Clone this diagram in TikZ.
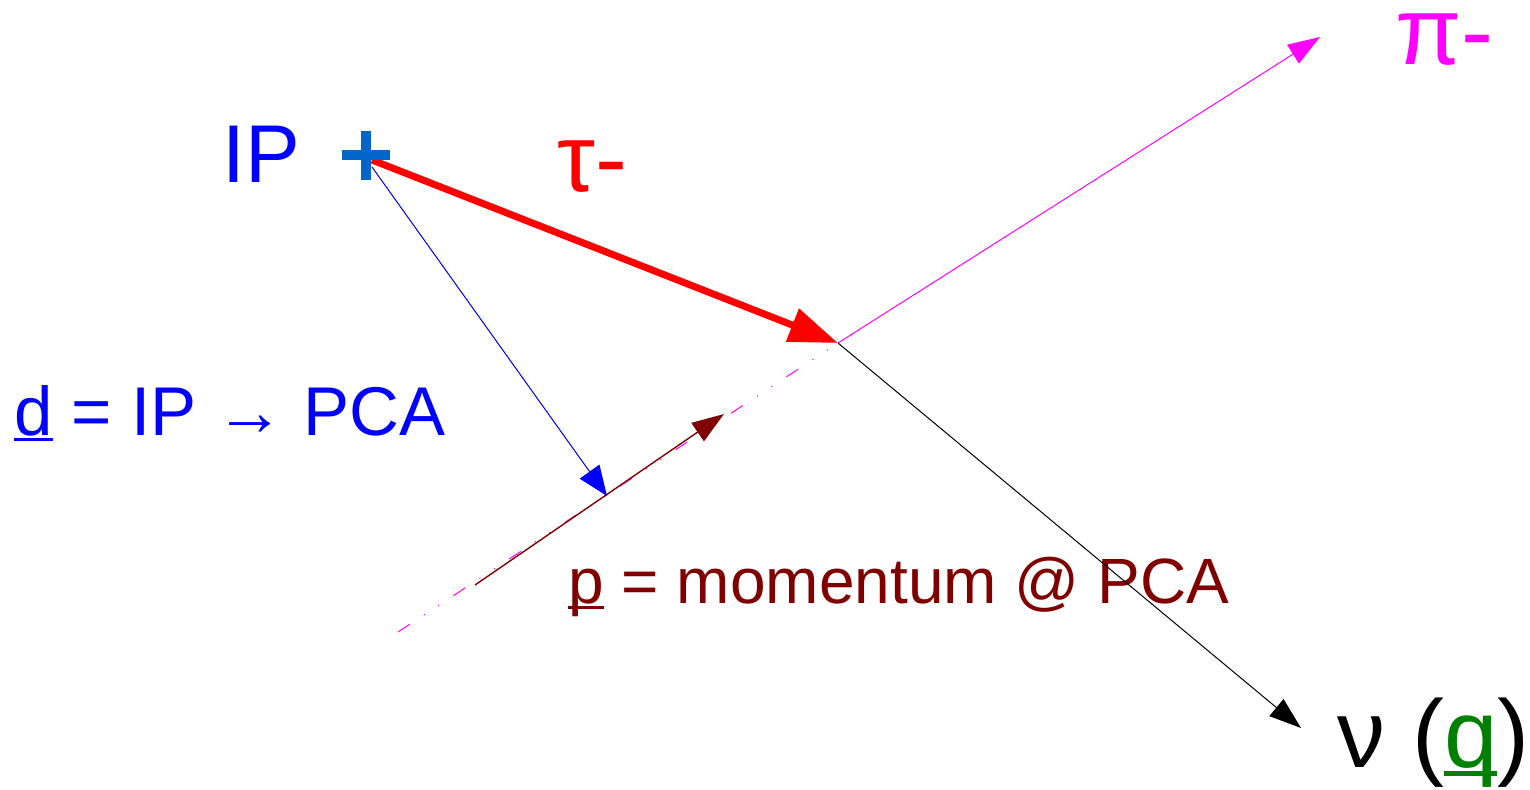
\documentclass[tikz,border=0pt]{standalone}
\usepackage{fontspec}
\setmainfont{Liberation Sans}
\usetikzlibrary{arrows.meta}
\definecolor{crossblue}{RGB}{0,102,204}
\definecolor{brownred}{RGB}{128,0,0}
\definecolor{darkgreen}{RGB}{0,128,0}
\definecolor{pimag}{RGB}{255,0,255}
\definecolor{pureblue}{RGB}{0,0,255}
\definecolor{purered}{RGB}{255,0,0}
\newcommand\myul[1]{\setbox0\hbox{#1}\rlap{\rule[-0.09em]{\wd0}{0.045em}}\box0\relax}
\tikzset{
  lbl/.style={inner sep=0pt, anchor=base west},
  thin line/.style={line width=0.5pt},
  smallhead/.style={-{Triangle[length=16pt,width=11pt]}},
}
\begin{document}
\begin{tikzpicture}[x=0.5pt,y=-0.5pt]
\useasboundingbox (0,0) rectangle (1530,789);
% coordinates
\coordinate (ipr) at (372,160);
\coordinate (ipd) at (372,167);
\coordinate (pca) at (838,343);
\coordinate (pitip) at (1320,37);
\coordinate (pilow) at (398,632);
\coordinate (nutip) at (1301,728);
\coordinate (pstart) at (475,585);
\coordinate (ptip) at (724,414);
\coordinate (dtip) at (607,496);
% labels
\node[lbl, text=pureblue, font=\fontsize{41pt}{41pt}\selectfont] (iplbl) at (222,182) {IP};
\node[lbl, text=purered, font=\fontsize{48pt}{48pt}\selectfont] (taulbl) at (557,191) {τ-};
\node[lbl, text=pimag, text height=27pt, font=\fontsize{48pt}{48pt}\selectfont] (pilbl) at (1395,64) {π-};
\node[lbl, text=pureblue, font=\fontsize{34.5pt}{34.5pt}\selectfont] (dlbl) at (14,435) {\myul{d} = IP → PCA};
\node[lbl, text=brownred, font=\fontsize{32pt}{32pt}\selectfont] (plbl) at (568,603) {\myul{p} = momentum @ PCA};
\node[lbl, text=black, font=\fontsize{48pt}{48pt}\selectfont] (nulbl) at (1337,767) {ν (\textcolor{darkgreen}{\myul{q}})};
% pion track
\draw[pimag, thin line, dash pattern=on 7pt off 8.5pt on 0.6pt off 8pt on 0.6pt off 8.5pt] (pilow) -- (pca);
\draw[pimag, thin line, smallhead] (pca) -- (pitip);
% momentum
\draw[brownred, line width=0.7pt, smallhead] (pstart) -- (ptip);
% d vector
\draw[pureblue, thin line, -{Triangle[length=15pt,width=12pt]}] (ipd) -- (dtip);
% neutrino
\draw[black, thin line, smallhead] (pca) -- (nutip);
% tau
\draw[purered, line width=3.5pt, -{Triangle[length=24.5pt,width=17pt]}] (ipr) -- (pca);
% IP cross
\coordinate (ip) at (366,155);
\fill[crossblue] (342,150) rectangle (390,160);
\fill[crossblue] (361,131) rectangle (371,180);
\end{tikzpicture}
\end{document}
